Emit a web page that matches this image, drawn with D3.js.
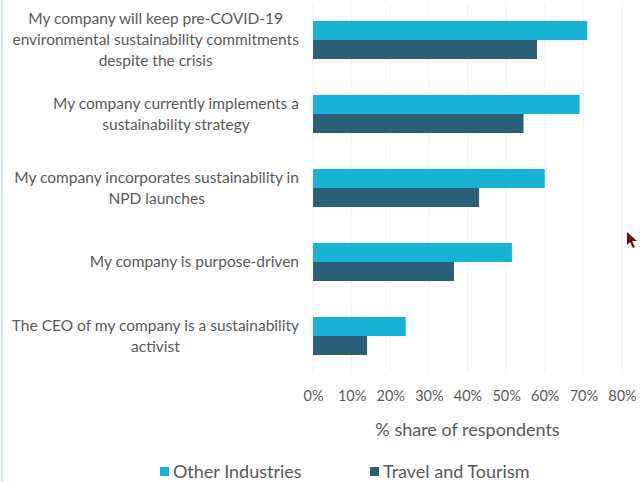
<!DOCTYPE html>
<html>
<head>
<meta charset="utf-8">
<script src="https://cdn.jsdelivr.net/npm/d3@7"></script>
<style>
  body { margin: 0; background: #fff; }
  text { font-family: Lato, "Open Sans", sans-serif; fill: #595959; }
</style>
</head>
<body>
<div id="chart"></div>
<script>
// data
var categories = [
  "My company will keep pre-COVID-19\nenvironmental sustainability commitments\ndespite the crisis",
  "My company currently implements a\nsustainability strategy",
  "My company incorporates sustainability in\nNPD launches",
  "My company is purpose-driven",
  "The CEO of my company is a sustainability\nactivist"
];
var seriesNames = ["Other Industries", "Travel and Tourism"];
var otherValues = [71, 69, 60, 51.5, 24];
var travelValues = [58, 54.5, 43, 36.5, 14];
var xTicks = [0, 10, 20, 30, 40, 50, 60, 70, 80];
var colors = ["#17b2d4", "#2b5f77"];

var svgWidth = 642;
var svgHeight = 482;

var svg = d3.select("#chart")
  .append("svg")
  .attr("width", svgWidth)
  .attr("height", svgHeight);

// thin blue frame edge on the left
svg.append("line")
  .attr("x1", 2).attr("x2", 2)
  .attr("y1", 0).attr("y2", svgHeight)
  .attr("stroke", "#cfe5f4")
  .attr("stroke-width", 2);

var x = d3.scaleLinear().domain([0, 80]).range([313, 622]);
var y = d3.scaleBand()
  .domain(categories)
  .range([3, 373])
  .paddingInner(0.486)
  .paddingOuter(0.243);
var sub = d3.scaleBand().domain(seriesNames).range([0, y.bandwidth()]);
var color = d3.scaleOrdinal().domain(seriesNames).range(colors);

// faint gridlines
svg.append("g")
  .selectAll("line")
  .data(xTicks)
  .join("line")
  .attr("x1", d => x(d)).attr("x2", d => x(d))
  .attr("y1", 3).attr("y2", 373)
  .attr("stroke", "#f3f3f3");

var rows = categories.map(function(c, i) {
  return { cat: c, values: [
    { name: seriesNames[0], value: otherValues[i] },
    { name: seriesNames[1], value: travelValues[i] }
  ]};
});

var groups = svg.append("g")
  .selectAll("g")
  .data(rows)
  .join("g")
  .attr("transform", d => `translate(0,${y(d.cat)})`);

groups.selectAll("rect")
  .data(d => d.values)
  .join("rect")
  .attr("x", x(0))
  .attr("y", d => sub(d.name))
  .attr("width", d => x(d.value) - x(0))
  .attr("height", sub.bandwidth())
  .attr("fill", d => color(d.name));

// category labels, centred lines, right edge near the axis
var labelRight = 299;
var lineH = 21;
var labels = svg.append("g");
categories.forEach(function(c) {
  var lines = c.split("\n");
  var t = labels.append("text")
    .attr("font-size", 15.5)
    .attr("text-anchor", "middle");
  lines.forEach(function(l, i) {
    t.append("tspan")
      .attr("x", 0)
      .attr("y", y(c) + y.bandwidth() / 2 + (i - (lines.length - 1) / 2) * lineH)
      .attr("dy", "0.35em")
      .text(l);
  });
  var w = t.node().getBBox().width;
  t.selectAll("tspan").attr("x", labelRight - w / 2);
});

// x axis
var xAxis = svg.append("g")
  .attr("transform", "translate(0,389)")
  .call(d3.axisBottom(x).tickValues(xTicks).tickFormat(d => d + "%").tickSize(0).tickPadding(2));
xAxis.select(".domain").remove();
xAxis.selectAll("text")
  .attr("font-size", 14.5)
  .style("font-family", "Lato, 'Open Sans', sans-serif")
  .attr("fill", "#595959");

svg.append("text")
  .attr("x", (x(0) + x(80)) / 2)
  .attr("y", 430)
  .attr("dy", "0.35em")
  .attr("text-anchor", "middle")
  .attr("font-size", 18)
  .text("% share of respondents");

// legend
var legendX = [160, 370];
var legend = svg.append("g")
  .selectAll("g")
  .data(seriesNames)
  .join("g")
  .attr("transform", (d, i) => `translate(${legendX[i]},472)`);
legend.append("rect")
  .attr("x", 0).attr("y", -5)
  .attr("width", 9).attr("height", 9)
  .attr("fill", d => color(d));
legend.append("text")
  .attr("x", 13)
  .attr("y", 0)
  .attr("dy", "0.35em")
  .attr("font-size", 18)
  .text(d => d);

// mouse pointer seen in the screenshot
svg.append("path")
  .attr("d", "M627,232 L627,245 L630,242 L633,248 L635,247 L632,241 L637,241 Z")
  .attr("fill", "#6b1010");
</script>
</body>
</html>
